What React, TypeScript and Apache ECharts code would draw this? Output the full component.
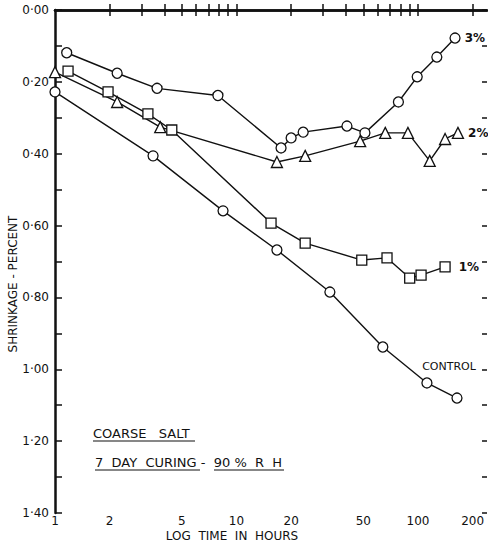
import React, { useEffect, useRef } from "react";
import * as echarts from "echarts";

// X axis (log hours) tick and label values
const hourTickValues = [2, 3, 4, 5, 6, 7, 8, 9, 10, 20, 30, 40, 50, 60, 70, 80, 90, 100, 200];
const hourLabelValues = [1, 2, 5, 10, 20, 50, 100, 200];

// 3% salt
const pct3Hours = [1.16, 2.2, 3.65, 7.9, 17.6, 20.0, 23.3, 40.6, 51, 78, 99, 127, 160];
const pct3Values = [0.119, 0.176, 0.218, 0.238, 0.384, 0.356, 0.34, 0.323, 0.342, 0.256, 0.186, 0.131, 0.078];

// 2% salt
const pct2Hours = [1.0, 2.2, 3.8, 16.7, 23.9, 48, 66, 88, 116, 141, 166];
const pct2Values = [0.173, 0.256, 0.326, 0.423, 0.406, 0.365, 0.342, 0.342, 0.42, 0.359, 0.342];

// 1% salt
const pct1Hours = [1.18, 1.96, 3.25, 4.4, 15.5, 23.9, 49, 67.5, 90, 104, 141];
const pct1Values = [0.17, 0.228, 0.289, 0.334, 0.593, 0.649, 0.696, 0.69, 0.746, 0.738, 0.715];

// Control
const controlHours = [1.0, 3.47, 8.43, 16.7, 32.7, 64, 112, 164];
const controlValues = [0.228, 0.406, 0.559, 0.668, 0.785, 0.938, 1.038, 1.08];

const INK = "#111";
const FONT = "DejaVu Sans";

function makeData(hours: number[], values: number[], labelText: string, labelOpts: any) {
  return hours.map((h, i) => {
    const item: any = { value: [h, values[i]] };
    if (i === hours.length - 1) {
      item.label = {
        show: true,
        formatter: labelText,
        color: INK,
        fontFamily: FONT,
        fontSize: 12,
        fontWeight: "bold",
        ...labelOpts,
      };
    }
    return item;
  });
}

function lineSeries(name: string, symbol: string, data: any[]) {
  return {
    name,
    type: "line",
    xAxisIndex: 0,
    yAxisIndex: 0,
    symbol,
    symbolSize: symbol === "triangle" ? 11 : 10,
    showAllSymbol: true,
    lineStyle: { color: INK, width: 1.4 },
    itemStyle: { color: "#fff", borderColor: INK, borderWidth: 1.3 },
    data,
  };
}

export default function App() {
  const ref = useRef<HTMLDivElement>(null);

  useEffect(() => {
    if (!ref.current) return;
    const chart = echarts.init(ref.current, null, { renderer: "svg" });

    const xAxisBase = {
      type: "log",
      logBase: 10,
      min: 1,
      max: 240,
      splitLine: { show: false },
      axisLine: { show: true, lineStyle: { color: INK, width: 2.5 } },
      axisTick: {
        show: true,
        inside: true,
        length: 6,
        customValues: hourTickValues,
        lineStyle: { color: INK, width: 1.5 },
      },
    };

    const yAxisBase = {
      type: "value",
      inverse: true,
      min: 0,
      max: 1.4,
      interval: 0.1,
      splitLine: { show: false },
    };

    chart.setOption({
      animation: false,
      backgroundColor: "#fff",
      grid: { left: 55, right: 1, top: 10, bottom: 31, containLabel: false },
      xAxis: [
        {
          ...xAxisBase,
          position: "bottom",
          axisLabel: {
            show: true,
            customValues: hourLabelValues,
            margin: 2,
            color: INK,
            fontFamily: FONT,
            fontSize: 12,
            formatter: (v: number) => String(Math.round(v)),
          },
        },
        {
          ...xAxisBase,
          position: "top",
          axisLabel: { show: false },
        },
      ],
      yAxis: [
        {
          ...yAxisBase,
          position: "left",
          axisLine: { show: true, lineStyle: { color: INK, width: 2.5 } },
          axisTick: { show: true, inside: true, length: 7, lineStyle: { color: INK, width: 1.5 } },
          axisLabel: {
            show: true,
            margin: 6,
            color: INK,
            fontFamily: FONT,
            fontSize: 12,
            formatter: (v: number) => {
              const k = Math.round(v * 100);
              return k % 20 === 0 ? (k / 100).toFixed(2).replace(".", "·") : "";
            },
          },
        },
        {
          ...yAxisBase,
          position: "right",
          axisLine: { show: false },
          axisTick: { show: true, inside: true, length: 5, lineStyle: { color: INK, width: 1.5 } },
          axisLabel: { show: false },
        },
      ],
      series: [
        lineSeries("3%", "circle", makeData(pct3Hours, pct3Values, "3%", { position: "right", distance: 4 })),
        lineSeries("2%", "triangle", makeData(pct2Hours, pct2Values, "2%", { position: "right", distance: 4 })),
        lineSeries("1%", "rect", makeData(pct1Hours, pct1Values, "1%", { position: "right", distance: 8 })),
        lineSeries(
          "CONTROL",
          "circle",
          makeData(controlHours, controlValues, "CONTROL", { position: "top", distance: 20, offset: [-8, 0], fontWeight: "normal", fontSize: 11 })
        ),
      ],
      graphic: [
        {
          type: "text",
          x: 13,
          y: 284,
          rotation: Math.PI / 2,
          style: {
            text: "SHRINKAGE - PERCENT",
            fill: INK,
            font: `12px "${FONT}"`,
            align: "center",
            verticalAlign: "middle",
          },
        },
        {
          type: "text",
          x: 232,
          y: 536,
          style: {
            text: "LOG  TIME  IN  HOURS",
            fill: INK,
            font: `12px "${FONT}"`,
            align: "center",
            verticalAlign: "middle",
          },
        },
        {
          type: "text",
          x: 93,
          y: 433,
          style: {
            text: "COARSE   SALT",
            fill: INK,
            font: `13px "${FONT}"`,
            align: "left",
            verticalAlign: "middle",
          },
        },
        {
          type: "line",
          shape: { x1: 93, y1: 441, x2: 195, y2: 441 },
          style: { stroke: INK, lineWidth: 1.2 },
        },
        {
          type: "text",
          x: 95,
          y: 462,
          style: {
            text: "7  DAY  CURING -  90 %  R  H",
            fill: INK,
            font: `13px "${FONT}"`,
            align: "left",
            verticalAlign: "middle",
          },
        },
        {
          type: "line",
          shape: { x1: 95, y1: 470, x2: 200, y2: 470 },
          style: { stroke: INK, lineWidth: 1.2 },
        },
        {
          type: "line",
          shape: { x1: 214, y1: 470, x2: 284, y2: 470 },
          style: { stroke: INK, lineWidth: 1.2 },
        },
      ],
    });

    return () => chart.dispose();
  }, []);

  return (
    <div
      ref={ref}
      style={{ position: "fixed", left: 0, top: 0, width: 488, height: 544, background: "#fff" }}
    />
  );
}
